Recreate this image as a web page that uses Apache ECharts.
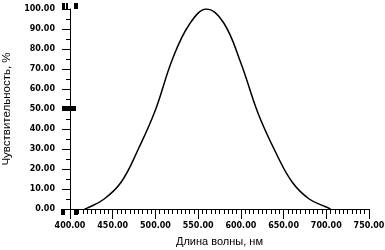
<!DOCTYPE html>
<html><head><meta charset="utf-8">
<script src="https://cdn.jsdelivr.net/npm/echarts@6/dist/echarts.min.js"></script>
<style>html,body{margin:0;padding:0;background:#fff}#c{width:385px;height:250px}</style>
</head><body><div id="c"></div>
<script>
var wavelengths = [417, 420, 440, 460, 480, 500, 520, 540, 560, 580, 600, 620, 640, 660, 680, 700, 705];
var sensitivity = [0, 0.4, 5, 13.5, 30, 49.5, 75, 92.5, 100, 93, 73, 48, 29, 13.5, 5, 1, 0];
var xTicks = [400, 750, 50];
var yTicks = [0, 100, 10];
var xName = 'Длина волны, нм';
var yName = 'Чувствительность, %';

var chart = echarts.init(document.getElementById('c'), null, {renderer: 'canvas'});
var lab = {color: '#000', fontFamily: 'DejaVu Sans', fontSize: 8, fontWeight: 'bold', formatter: function (v) { return v.toFixed(2); }};
chart.setOption({
  animation: false,
  grid: {left: 70, right: 16, top: 9, bottom: 41, containLabel: false, outerBoundsMode: 'none'},
  xAxis: {
    type: 'value', min: xTicks[0], max: xTicks[1], interval: xTicks[2],
    name: xName, nameLocation: 'middle', nameGap: 27,
    nameTextStyle: {color: '#000', fontFamily: 'Liberation Sans', fontSize: 11},
    axisLine: {lineStyle: {color: '#000', width: 1}},
    axisTick: {inside: false, length: 10, lineStyle: {color: '#000'}},
    minorTick: {show: true, splitNumber: 10, length: 5, lineStyle: {color: '#000'}},
    splitLine: {show: false},
    axisLabel: Object.assign({margin: 13}, lab)
  },
  yAxis: {
    type: 'value', min: yTicks[0], max: yTicks[1], interval: yTicks[2],
    name: yName, nameLocation: 'middle', nameGap: 55, nameRotate: 90,
    nameTextStyle: {color: '#000', fontFamily: 'Liberation Sans', fontSize: 11.5},
    axisLine: {lineStyle: {color: '#000', width: 1}},
    axisTick: {inside: false, length: 8, lineStyle: {color: '#000'}},
    minorTick: {show: true, splitNumber: 2, length: 4, lineStyle: {color: '#000'}},
    splitLine: {show: false},
    axisLabel: Object.assign({margin: 15}, lab)
  },
  series: [{
    type: 'line', smooth: 0.4, symbol: 'none',
    data: wavelengths.map(function (w, i) { return [w, sensitivity[i]]; }),
    lineStyle: {color: '#000', width: 1.5}
  }],
  graphic: [
    {type: 'rect', shape: {x: 62, y: 3, width: 3, height: 6}, style: {fill: '#000'}},
    {type: 'rect', shape: {x: 66, y: 3, width: 2, height: 6}, style: {fill: '#000'}},
    {type: 'rect', shape: {x: 74, y: 3, width: 4, height: 6}, style: {fill: '#000'}},
    {type: 'rect', shape: {x: 62, y: 106, width: 14, height: 5}, style: {fill: '#000'}},
    {type: 'rect', shape: {x: 61, y: 209, width: 4, height: 6}, style: {fill: '#000'}},
    {type: 'rect', shape: {x: 74, y: 209, width: 4, height: 6}, style: {fill: '#000'}}
  ]
});
</script></body></html>
